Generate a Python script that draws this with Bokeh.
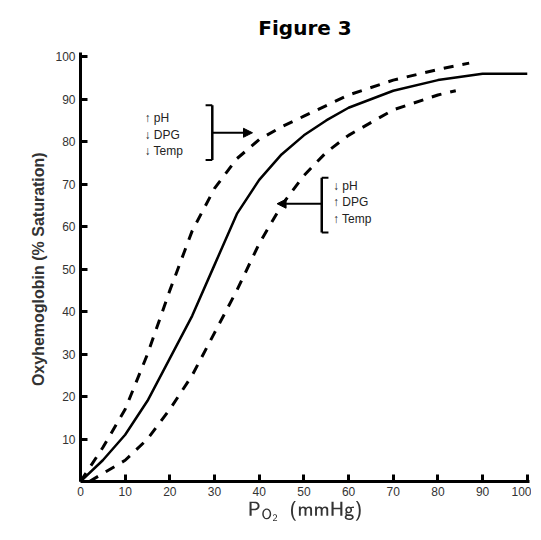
from bokeh.plotting import figure
from bokeh.models import Label, Arrow, NormalHead, FixedTicker, Range1d
from bokeh.embed import file_html
from bokeh.resources import INLINE

# curves
x_mid = [0, 5, 10, 15, 20, 25, 30, 35, 40, 45, 50, 55, 60, 70, 80, 90, 100]
y_mid = [0, 5, 11, 19, 29, 39, 51, 63, 71, 77, 81.5, 85, 88, 92, 94.5, 96, 96]
x_left = [0, 5, 10, 15, 20, 25, 30, 35, 40, 45, 50, 60, 70, 80, 87]
y_left = [0, 8, 17, 30, 45, 59, 69, 76, 80.5, 83.5, 86, 91, 94.5, 97, 98.5]
x_right = [2, 10, 15, 20, 25, 30, 35, 40, 45, 50, 55, 60, 70, 80, 84]
y_right = [0, 5, 10, 17, 25, 35, 45, 56, 65, 72, 77.5, 81.5, 87.5, 91, 92]

upper_lines = ["\u2191 pH", "\u2193 DPG", "\u2193 Temp"]
lower_lines = ["\u2193 pH", "\u2191 DPG", "\u2191 Temp"]

p = figure(width=531, height=524, output_backend="svg", toolbar_location=None,
           x_range=Range1d(0, 100.5), y_range=Range1d(0, 101),
           min_border_left=80, min_border_bottom=4, min_border_top=8, min_border_right=2)
p.title.text = "Figure 3"
p.title.align = "center"
p.title.text_font = "DejaVu Sans"
p.title.text_font_size = "20px"
p.title.text_font_style = "bold"
p.title.text_color = "black"
p.title.standoff = 26
p.outline_line_color = None
p.grid.grid_line_color = None

for ax in (p.xaxis, p.yaxis):
    ax.axis_line_width = 3
    ax.major_tick_line_width = 3
    ax.major_tick_in = 7
    ax.major_tick_out = 0
    ax.minor_tick_line_color = None
    ax.major_label_text_font = "Liberation Sans"
    ax.major_label_text_font_size = "12px"
    ax.major_label_text_color = "#333333"
    ax.axis_label_text_font = "Liberation Sans"
    ax.axis_label_text_color = "#333333"
    ax.axis_label_text_font_style = "normal"
p.xaxis.ticker = FixedTicker(ticks=list(range(0, 101, 10)))
p.yaxis.ticker = FixedTicker(ticks=list(range(10, 101, 10)))
p.yaxis.axis_label = "Oxyhemoglobin  (% Saturation)"
p.yaxis.axis_label_text_font_size = "16px"
p.yaxis.axis_label_text_font_style = "bold"
p.xaxis.axis_label = r"$$\mathsf{P_{O_2}}\ \ \mathsf{(mmHg)}$$"
p.xaxis.axis_label_text_font_size = "17px"
p.xaxis.axis_label_standoff = 2

p.line(x_mid, y_mid, line_width=2.5, color="black")
p.line(x_left, y_left, line_width=3, color="black", line_dash="10 9")
p.line(x_right, y_right, line_width=3, color="black", line_dash="10 9")

def block(x_text, ys, lines, xb, yb0, yb1, xa0, xa1, ya, side):
    for yy, t in zip(ys, lines):
        p.add_layout(Label(x=x_text, y=yy, text=t, text_font="Liberation Sans",
                           text_font_size="12px", text_baseline="middle", text_color="#222222"))
    p.line([xb, xb], [yb0, yb1], line_width=2.5, color="black")
    d = -1.5 if side == "right" else 1.5
    p.line([xb + d, xb], [yb0, yb0], line_width=2, color="black")
    p.line([xb + d, xb], [yb1, yb1], line_width=2, color="black")
    p.add_layout(Arrow(end=NormalHead(size=9, fill_color="black", line_color="black"),
                       x_start=xa0, y_start=ya, x_end=xa1, y_end=ya, line_width=2))

block(14.3, [85.5, 81.5, 77.8], upper_lines, 29.5, 88.6, 75.7, 29.5, 38.5, 82.1, "right")
block(56.5, [69.6, 65.7, 61.9], lower_lines, 54.0, 71.5, 58.6, 54.0, 44.0, 65.4, "left")

open("out.html", "w").write(file_html(p, INLINE))
